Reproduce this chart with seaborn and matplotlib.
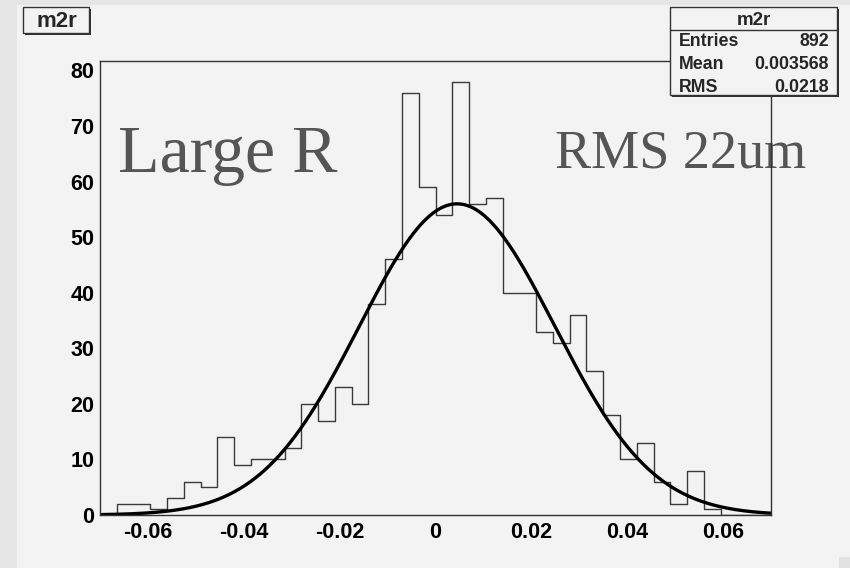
import numpy as np
import pandas as pd
import matplotlib
matplotlib.use("Agg")
import matplotlib.pyplot as plt
from matplotlib.patches import Rectangle
import seaborn as sns

# ---------------- data ----------------
bin_low = -0.07
bin_high = 0.07
n_bins = 40
counts = [0, 2, 2, 1, 3, 6, 5, 14, 9, 10,
          10, 12, 20, 17, 23, 20, 38, 46, 76, 59,
          54, 78, 56, 57, 40, 40, 33, 31, 36, 26,
          18, 10, 13, 6, 2, 8, 1, 0, 0, 0]
fit_const = 56.0
fit_mean = 0.0045
fit_sigma = 0.0204
x_ticks = [-0.06, -0.04, -0.02, 0.0, 0.02, 0.04, 0.06]
x_tick_labels = ["-0.06", "-0.04", "-0.02", "0", "0.02", "0.04", "0.06"]
y_ticks = [0, 10, 20, 30, 40, 50, 60, 70, 80]
hist_name = "m2r"
stats_rows = [("Entries", "892"), ("Mean", "0.003568"), ("RMS", "0.0218")]
label_left = "Large R"
label_right = "RMS 22um"

# ---------------- figure ----------------
sns.set_theme(style="white")
plt.rcParams["font.family"] = ["Liberation Sans", "DejaVu Sans"]
plt.rcParams["axes.unicode_minus"] = False

W, H = 850, 568
fig = plt.figure(figsize=(W / 100, H / 100), dpi=100)
fig.patch.set_facecolor("#e6e6e6")

def fx(px):
    return px / W

def fy(py):
    return 1 - py / H

canvas_col = "#f3f3f3"
# canvas area
fig.patches.append(Rectangle((fx(17), fy(568)), fx(850) - fx(17), fy(5) - fy(568),
                             transform=fig.transFigure, facecolor=canvas_col,
                             edgecolor="none", zorder=-2))
fig.patches.append(Rectangle((fx(839), fy(568)), fx(850) - fx(839), fy(557) - fy(568),
                             transform=fig.transFigure, facecolor="#e2e2e2",
                             edgecolor="none", zorder=-2))

ax = fig.add_axes([fx(100), fy(515), fx(771) - fx(100), fy(61) - fy(515)])
ax.set_facecolor(canvas_col)

edges = np.linspace(bin_low, bin_high, n_bins + 1)
centers = (edges[:-1] + edges[1:]) / 2
df = pd.DataFrame({"x": centers, "w": counts})
sns.histplot(data=df, x="x", weights="w", bins=n_bins, binrange=(bin_low, bin_high),
             element="step", fill=False, color="#3a3a3a", linewidth=1.0, ax=ax)

xf = np.linspace(bin_low, bin_high, 400)
yf = fit_const * np.exp(-0.5 * ((xf - fit_mean) / fit_sigma) ** 2)
sns.lineplot(x=xf, y=yf, color="black", linewidth=2.4, ax=ax)

ax.set_xlim(bin_low, bin_high)
ax.set_ylim(0, 81.7)
ax.set_xlabel("")
ax.set_ylabel("")
ax.set_xticks(x_ticks)
ax.set_xticklabels(x_tick_labels)
ax.set_xticks(np.arange(-0.065, 0.0651, 0.005), minor=True)
ax.set_yticks(y_ticks)
ax.set_yticks(np.arange(0, 82, 2), minor=True)
ax.tick_params(axis="both", which="both", direction="in", colors="#333333",
               width=1.0)
ax.tick_params(axis="x", which="major", length=10, pad=5)
ax.tick_params(axis="x", which="minor", length=5)
ax.tick_params(axis="y", which="major", length=15, pad=4)
ax.tick_params(axis="y", which="minor", length=7.5)
ax.tick_params(axis="both", which="major", labelcolor="black")
for lab in ax.get_xticklabels() + ax.get_yticklabels():
    lab.set_fontweight("bold")
    lab.set_fontsize(15.5)
for s in ax.spines.values():
    s.set_color("#333333")
    s.set_linewidth(1.0)
    s.set_visible(True)
    s.set_zorder(5)

# large serif labels (drawn beneath the frame)
ax.text(fx(118), fy(172), label_left, fontsize=49, color="#555555",
        family=["Liberation Serif", "DejaVu Serif"], ha="left", va="baseline",
        transform=fig.transFigure, clip_on=False, zorder=1)
ax.text(fx(555), fy(167), label_right, fontsize=39, color="#555555",
        family=["Liberation Serif", "DejaVu Serif"], ha="left", va="baseline",
        transform=fig.transFigure, clip_on=False, zorder=1)

# ---- title box ----
def shadow_box(x0, y0, x1, y1):
    fig.patches.append(Rectangle((fx(x0 + 2), fy(y1 + 2)), fx(x1) - fx(x0), fy(y0) - fy(y1),
                                 transform=fig.transFigure, facecolor="#333333",
                                 edgecolor="none", zorder=10))
    fig.patches.append(Rectangle((fx(x0), fy(y1)), fx(x1) - fx(x0), fy(y0) - fy(y1),
                                 transform=fig.transFigure, facecolor=canvas_col,
                                 edgecolor="#333333", linewidth=1.0, zorder=11))

shadow_box(23, 7, 89, 33)
fig.text(fx(57), fy(27), hist_name, fontsize=16, fontweight="bold", ha="center",
         va="baseline", zorder=12)

# ---- stats box ----
shadow_box(670, 7, 837, 95)
fig.lines.append(plt.Line2D([fx(670), fx(837)], [fy(29.5), fy(29.5)],
                            transform=fig.transFigure, color="#333333", lw=1.0, zorder=12))
fig.text(fx(754), fy(25), hist_name, fontsize=13.5, fontweight="bold", ha="center",
         va="baseline", zorder=12)
for i, (k, v) in enumerate(stats_rows):
    yb = 46.5 + i * 22.5
    fig.text(fx(679), fy(yb), k, fontsize=12.8, fontweight="bold", ha="left",
             va="baseline", zorder=12)
    fig.text(fx(829), fy(yb), v, fontsize=12.8, fontweight="bold", ha="right",
             va="baseline", zorder=12)

fig.savefig("out.png", dpi=100, facecolor=fig.get_facecolor())
